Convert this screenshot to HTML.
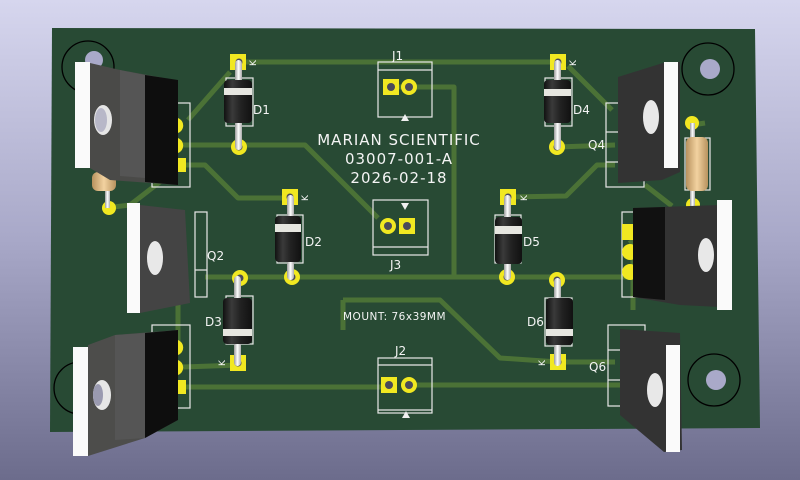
<!DOCTYPE html>
<html><head><meta charset="utf-8"><style>
html,body{margin:0;padding:0;width:800px;height:480px;overflow:hidden}
svg{display:block}
text{font-family:"DejaVu Sans","Liberation Sans",sans-serif;fill:#f4f4f4}
</style></head><body>
<svg width="800" height="480" viewBox="0 0 800 480" xmlns="http://www.w3.org/2000/svg">
<defs>
<linearGradient id="bg" x1="0" y1="0" x2="0" y2="1">
<stop offset="0" stop-color="#d6d6ee"/><stop offset="0.5" stop-color="#a8a8c8"/><stop offset="1" stop-color="#6c6c8c"/></linearGradient>
<linearGradient id="dbody" x1="0" y1="0" x2="1" y2="0">
<stop offset="0" stop-color="#111"/><stop offset="0.3" stop-color="#3a3a3a"/><stop offset="0.6" stop-color="#222"/><stop offset="1" stop-color="#111"/></linearGradient>
<linearGradient id="lead" x1="0" y1="0" x2="1" y2="0">
<stop offset="0" stop-color="#999"/><stop offset="0.5" stop-color="#fff"/><stop offset="1" stop-color="#aaa"/></linearGradient>
<linearGradient id="res" x1="0" y1="0" x2="1" y2="0">
<stop offset="0" stop-color="#b8925e"/><stop offset="0.5" stop-color="#f2d2a0"/><stop offset="1" stop-color="#b8925e"/></linearGradient>
</defs>
<rect width="800" height="480" fill="url(#bg)"/>
<polygon points="52,28 755,29 760,428 50,432" fill="#284a34"/>

<!-- traces -->
<g stroke="#4b7236" stroke-width="5" fill="none" stroke-linejoin="round">
<polyline points="238,62 558,62"/>
<polyline points="230,72 188,120"/>
<polyline points="183,145 305,145 378,218"/>
<polyline points="183,165 205,165 238,198 290,198"/>
<polyline points="105,208 130,205 165,178"/>
<polyline points="391,87 454,87 454,277"/>
<polyline points="205,277 640,277"/>
<polyline points="630,240 633,245 633,310"/>
<polyline points="343,300 440,300 500,358 558,362 615,362"/>
<polyline points="183,387 389,387"/>
<polyline points="409,385 640,385"/>
<polyline points="183,367 240,365"/>
<polyline points="568,66 612,110"/>
<polyline points="557,147 615,145"/>
<polyline points="615,165 597,165 566,196 508,197"/>
<polyline points="645,185 672,206"/>
<polyline points="178,300 178,345"/>
<polyline points="692,125 705,123"/>
<polyline points="343,300 343,330"/>
</g>

<!-- mount holes -->
<g stroke="#000" stroke-width="1.3" fill="none">
<circle cx="88" cy="67" r="26"/><circle cx="708" cy="69" r="26"/><circle cx="714" cy="380" r="26"/><circle cx="80" cy="388" r="26"/>
</g>
<g fill="#a9a9c9"><circle cx="710" cy="69" r="10"/><circle cx="716" cy="380" r="10"/><circle cx="94" cy="60" r="9"/></g>
<g fill="#3c3030"><path d="M716 61 a10 10 0 0 1 2 16 a10 10 0 0 0 -2 -16z"/><path d="M722 372 a10 10 0 0 1 2 16 a10 10 0 0 0 -2 -16z"/></g>

<!-- silkscreen outlines -->
<g stroke="#e8e8e8" stroke-width="1.2" fill="none">
<rect x="378" y="62" width="54" height="55"/><line x1="378" y1="70" x2="432" y2="70"/>
<rect x="373" y="200" width="55" height="55"/><line x1="373" y1="247" x2="428" y2="247"/>
<rect x="378" y="358" width="54" height="55"/><line x1="378" y1="365" x2="432" y2="365"/><line x1="378" y1="410" x2="432" y2="410"/>
<rect x="152" y="103" width="38" height="84"/>
<rect x="195" y="212" width="12" height="85"/><line x1="195" y1="270" x2="207" y2="270"/>
<rect x="152" y="325" width="38" height="83"/>
<rect x="606" y="103" width="38" height="84"/><line x1="606" y1="132" x2="618" y2="132"/><line x1="606" y1="162" x2="618" y2="162"/>
<rect x="622" y="212" width="28" height="85"/>
<rect x="608" y="325" width="37" height="81"/><line x1="608" y1="350" x2="620" y2="350"/><line x1="608" y1="380" x2="620" y2="380"/>
<rect x="226" y="78" width="27" height="48"/><rect x="545" y="78" width="27" height="48"/>
<rect x="277" y="215" width="26" height="48"/><rect x="495" y="215" width="26" height="48"/>
<rect x="226" y="296" width="27" height="48"/><rect x="545" y="298" width="27" height="48"/>
<rect x="685" y="138" width="25" height="52"/>
</g>
<g fill="#f0f0f0"><polygon points="401,121 409,121 405,114"/><polygon points="401,203 409,203 405,210"/><polygon points="402,418 410,418 406,411"/></g>

<!-- pads -->
<g fill="#f1e821">
<rect x="230" y="54" width="16" height="16"/><circle cx="239" cy="147" r="8"/>
<rect x="550" y="54" width="16" height="16"/><circle cx="557" cy="147" r="8"/>
<rect x="282" y="189" width="16" height="16"/><circle cx="292" cy="277" r="8"/>
<rect x="500" y="189" width="16" height="16"/><circle cx="507" cy="277" r="8"/>
<circle cx="240" cy="278" r="8"/><rect x="230" y="355" width="16" height="16"/>
<circle cx="557" cy="280" r="8"/><rect x="550" y="354" width="16" height="16"/>
<rect x="383" y="79" width="16" height="16"/><circle cx="409" cy="87" r="8"/>
<circle cx="388" cy="226" r="8"/><rect x="399" y="218" width="16" height="16"/>
<rect x="381" y="377" width="16" height="16"/><circle cx="409" cy="385" r="8"/>
<circle cx="109" cy="208" r="7"/><circle cx="692" cy="123" r="7"/><circle cx="693" cy="205" r="7"/>
<circle cx="630" cy="252" r="8"/><circle cx="630" cy="272" r="8"/><rect x="622" y="224" width="16" height="16"/>
</g>
<g fill="#4a4a5a">
<circle cx="239" cy="62" r="3.5"/><circle cx="239" cy="147" r="3.5"/><circle cx="558" cy="62" r="3.5"/><circle cx="557" cy="147" r="3.5"/>
<circle cx="290" cy="197" r="3.5"/><circle cx="292" cy="277" r="3.5"/><circle cx="508" cy="197" r="3.5"/><circle cx="507" cy="277" r="3.5"/>
<circle cx="240" cy="278" r="3.5"/><circle cx="238" cy="363" r="3.5"/><circle cx="557" cy="280" r="3.5"/><circle cx="558" cy="362" r="3.5"/>
<circle cx="391" cy="87" r="4"/><circle cx="409" cy="87" r="4"/><circle cx="388" cy="226" r="4"/><circle cx="407" cy="226" r="4"/>
<circle cx="389" cy="385" r="4"/><circle cx="409" cy="385" r="4"/>
</g>

<!-- diodes -->
<g>
<rect x="235" y="60" width="7" height="90" rx="3.5" fill="url(#lead)"/><rect x="224" y="80" width="28" height="43" rx="4" fill="url(#dbody)"/><rect x="224" y="88" width="28" height="7" fill="#e6e6e0"/>
<rect x="554" y="60" width="7" height="90" rx="3.5" fill="url(#lead)"/><rect x="544" y="80" width="27" height="43" rx="4" fill="url(#dbody)"/><rect x="544" y="89" width="27" height="7" fill="#e6e6e0"/>
<rect x="287" y="195" width="7" height="85" rx="3.5" fill="url(#lead)"/><rect x="275" y="216" width="26" height="46" rx="4" fill="url(#dbody)"/><rect x="275" y="224" width="26" height="8" fill="#e6e6e0"/>
<rect x="504" y="195" width="7" height="85" rx="3.5" fill="url(#lead)"/><rect x="495" y="217" width="27" height="47" rx="4" fill="url(#dbody)"/><rect x="495" y="226" width="27" height="8" fill="#e6e6e0"/>
<rect x="234" y="276" width="7" height="90" rx="3.5" fill="url(#lead)"/><rect x="223" y="298" width="29" height="46" rx="4" fill="url(#dbody)"/><rect x="223" y="329" width="29" height="7" fill="#e6e6e0"/>
<rect x="554" y="278" width="7" height="88" rx="3.5" fill="url(#lead)"/><rect x="546" y="298" width="27" height="47" rx="4" fill="url(#dbody)"/><rect x="546" y="329" width="27" height="7" fill="#e6e6e0"/>
</g>

<!-- resistors -->
<rect x="105" y="180" width="5" height="28" fill="url(#lead)"/>
<rect x="92" y="172" width="24" height="19" rx="6" fill="url(#res)"/>
<rect x="690" y="123" width="5" height="85" fill="url(#lead)"/>
<rect x="686" y="137" width="22" height="54" rx="6" fill="url(#res)"/>

<!-- transistors -->
<!-- Q1 -->
<polygon points="90,63 120,70 175,80 178,185 110,180 90,168" fill="#4a4a48"/>
<polygon points="120,70 145,75 145,178 120,176" fill="#555"/>
<polygon points="145,75 178,80 178,185 145,182" fill="#0e0e0e"/>
<rect x="75" y="62" width="15" height="106" fill="#fafafa"/>
<ellipse cx="103" cy="120" rx="9" ry="15" fill="#e6e6e6"/><ellipse cx="101" cy="120" rx="6" ry="12" fill="#b8b8c8"/>
<!-- Q2 -->
<polygon points="140,205 185,210 190,303 140,313" fill="#444"/>
<rect x="127" y="203" width="13" height="110" fill="#fafafa"/>
<ellipse cx="155" cy="258" rx="8" ry="17" fill="#e8e8e8"/>
<!-- Q3 -->
<polygon points="88,345 115,335 178,330 178,420 145,438 88,456" fill="#4d4d4b"/>
<polygon points="115,335 145,333 145,438 115,440" fill="#555"/>
<polygon points="145,333 178,330 178,420 145,438" fill="#0e0e0e"/>
<rect x="73" y="347" width="15" height="109" fill="#fafafa"/>
<ellipse cx="102" cy="395" rx="9" ry="15" fill="#e6e6e6"/><ellipse cx="98" cy="395" rx="5" ry="11" fill="#9a9ab0"/>
<!-- Q4 -->
<polygon points="618,77 666,62 680,62 680,172 662,180 618,183" fill="#333"/>
<rect x="664" y="62" width="14" height="106" fill="#fafafa"/>
<ellipse cx="651" cy="117" rx="8" ry="17" fill="#e8e8e8"/>
<!-- Q5 -->
<polygon points="633,208 720,205 720,307 680,305 633,297" fill="#333"/>
<polygon points="633,208 665,207 665,300 633,297" fill="#111"/>
<rect x="717" y="200" width="15" height="110" fill="#fafafa"/>
<ellipse cx="706" cy="255" rx="8" ry="17" fill="#e8e8e8"/>
<!-- Q6 -->
<polygon points="620,329 680,333 682,450 664,452 620,415" fill="#333"/>
<rect x="666" y="345" width="14" height="107" fill="#fafafa"/>
<ellipse cx="655" cy="390" rx="8" ry="17" fill="#e8e8e8"/>
<!-- pin pads visible by transistors -->
<g fill="#f1e821"><path d="M178 118 a8 8 0 0 1 0 15z"/><path d="M178 138 a8 8 0 0 1 0 15z"/><rect x="178" y="158" width="8" height="14"/>
<path d="M178 340 a8 8 0 0 1 0 15z"/><path d="M178 360 a8 8 0 0 1 0 15z"/><rect x="178" y="380" width="8" height="14"/></g>

<!-- labels -->
<g font-size="12">
<text x="392" y="60">J1</text><text x="390" y="269">J3</text><text x="395" y="355">J2</text>
<text x="253" y="114">D1</text><text x="573" y="114">D4</text><text x="305" y="246">D2</text><text x="523" y="246">D5</text>
<text x="205" y="326">D3</text><text x="527" y="326">D6</text>
<text x="207" y="260">Q2</text><text x="588" y="149">Q4</text><text x="589" y="371">Q6</text>
</g>
<g font-size="9"><text x="250" y="66" transform="rotate(-90 253 63)">K</text><text x="570" y="66" transform="rotate(-90 573 63)">K</text>
<text x="302" y="201" transform="rotate(-90 305 198)">K</text><text x="521" y="201" transform="rotate(-90 524 198)">K</text>
<text x="219" y="366" transform="rotate(-90 222 363)">K</text><text x="539" y="366" transform="rotate(-90 542 363)">K</text></g>
<g font-size="15" text-anchor="middle" letter-spacing="1"><text x="399" y="145">MARIAN SCIENTIFIC</text><text x="399" y="164">03007-001-A</text><text x="399" y="183">2026-02-18</text></g>
<text x="343" y="320" font-size="10.5" letter-spacing="0.5">MOUNT: 76x39MM</text>
</svg>
</body></html>
